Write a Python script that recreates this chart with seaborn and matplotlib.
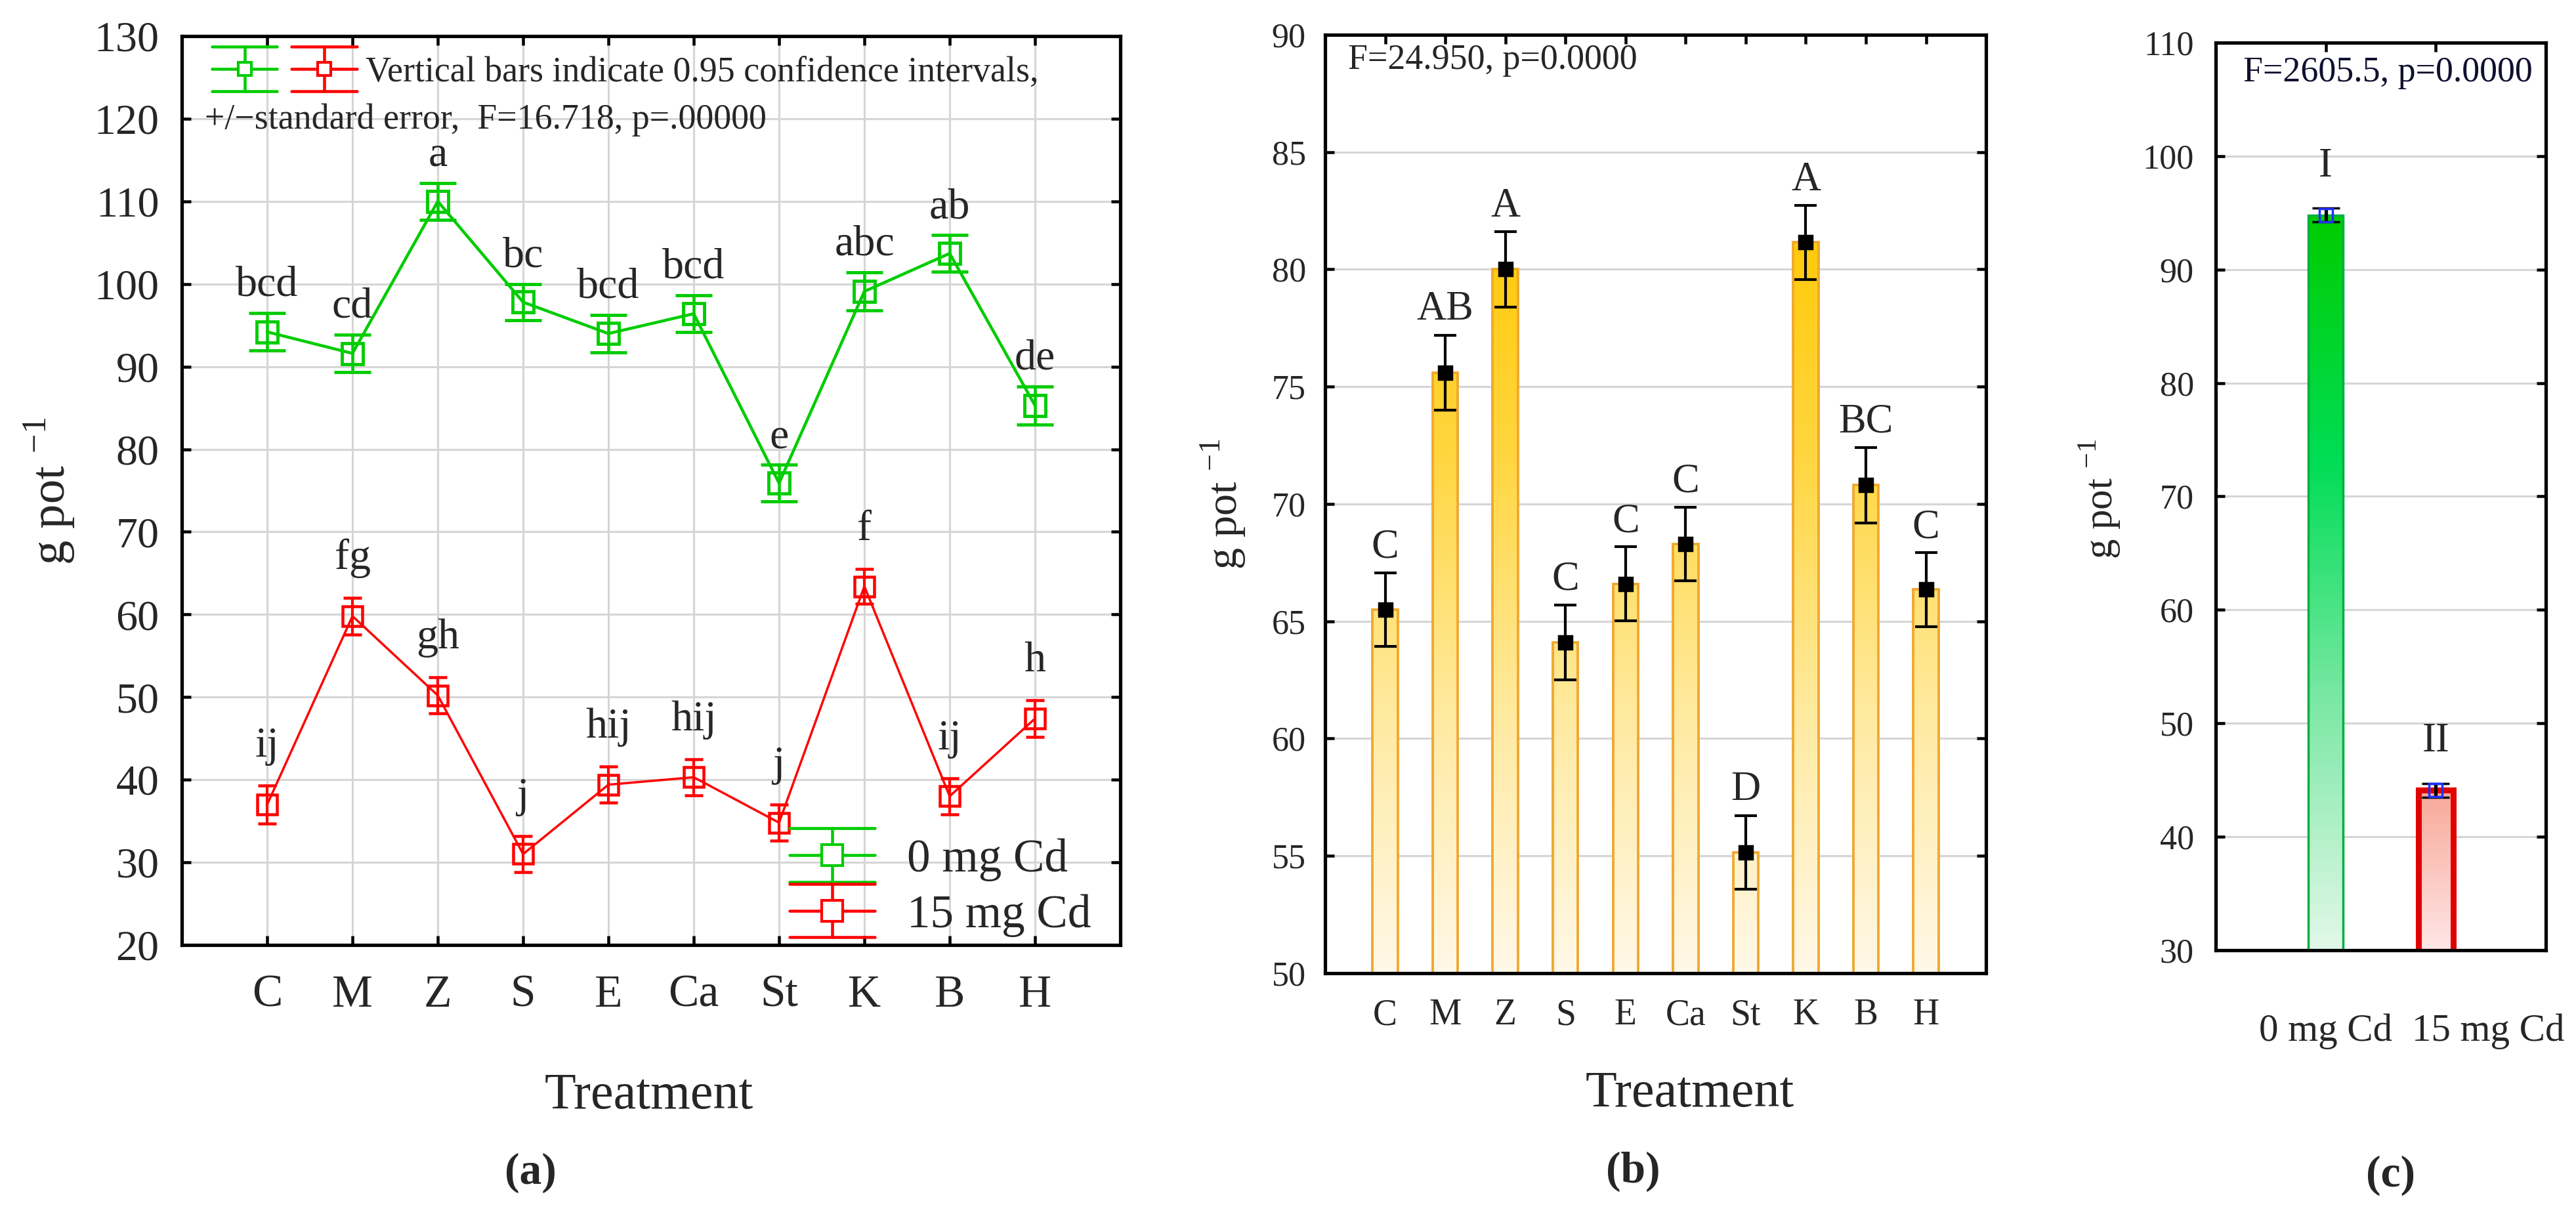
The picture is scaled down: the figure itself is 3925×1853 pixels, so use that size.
import numpy as np
import matplotlib
matplotlib.use('Agg')
import matplotlib.pyplot as plt
import seaborn as sns
from matplotlib.colors import LinearSegmentedColormap
from matplotlib.legend_handler import HandlerBase, HandlerTuple
from matplotlib.lines import Line2D
from matplotlib.transforms import ScaledTranslation

# ---- data ----
treatments = ['C', 'M', 'Z', 'S', 'E', 'Ca', 'St', 'K', 'B', 'H']

# (a) means and 0.95 CI half widths
cd0_mean = [94.2, 91.6, 110.0, 97.8, 94.0, 96.4, 75.9, 99.1, 103.7, 85.3]
cd0_ci = [2.25, 2.3, 2.25, 2.2, 2.25, 2.25, 2.2, 2.3, 2.2, 2.3]
cd0_letters = ['bcd', 'cd', 'a', 'bc', 'bcd', 'bcd', 'e', 'abc', 'ab', 'de']
cd15_mean = [37.0, 59.8, 50.2, 31.0, 39.4, 40.3, 34.8, 63.4, 38.0, 47.4]
cd15_ci = [2.3, 2.2, 2.2, 2.2, 2.2, 2.2, 2.2, 2.1, 2.2, 2.2]
cd15_letters = ['ij', 'fg', 'gh', 'j', 'hij', 'hij', 'j', 'f', 'ij', 'h']

# (b) treatment means
b_mean = [65.5, 75.6, 80.0, 64.1, 66.6, 68.3, 55.15, 81.15, 70.8, 66.35]
b_err = [1.57, 1.6, 1.6, 1.6, 1.57, 1.57, 1.57, 1.57, 1.6, 1.57]
b_letters = ['C', 'AB', 'A', 'C', 'C', 'C', 'D', 'A', 'BC', 'C']

# (c) Cd level means
cd_levels = ['0 mg Cd', '15 mg Cd']
c_mean = [94.8, 44.1]
c_err = [0.6, 0.6]
c_letters = ['I', 'II']

SERIF = 'Liberation Serif'
GREEN = '#00cc00'
RED = '#ff0000'
GRID = '#d6d6d6'

sns.set_theme(style='white')
plt.rcParams['font.family'] = [SERIF, 'DejaVu Serif']
plt.rcParams['mathtext.fontset'] = 'custom'
plt.rcParams['mathtext.rm'] = SERIF


class ErrKeyHandler(HandlerBase):
    # legend key: three horizontal lines, a vertical bar and an open square
    def __init__(self, span=0.85, ms=7):
        super().__init__()
        self.span = span
        self.ms = ms

    def create_artists(self, legend, orig_handle, xdescent, ydescent,
                       width, height, fontsize, trans):
        c = orig_handle.get_color()
        lw = 1.3
        x0 = -xdescent
        x1 = x0 + width
        xm = x0 + width / 2
        ym = -ydescent + height / 2
        dy = height * self.span
        arts = [Line2D([x0, x1], [yy, yy], color=c, lw=lw)
                for yy in (ym - dy, ym, ym + dy)]
        arts.append(Line2D([xm, xm], [ym - dy, ym + dy], color=c, lw=lw))
        arts.append(Line2D([xm], [ym], marker='s', ms=self.ms, mfc='white',
                           mec=c, mew=1.2, ls='none'))
        for a in arts:
            a.set_transform(trans)
        return arts


def style_axes(ax):
    ax.set_axisbelow(True)
    ax.grid(True, color=GRID, lw=0.9)
    for sp in ax.spines.values():
        sp.set_visible(True)
        sp.set_color('black')
        sp.set_linewidth(1.5)
    ax.tick_params(direction='in', top=True, right=True, bottom=True, left=True,
                   length=4, width=1.3, color='black')


fig = plt.figure(figsize=(15.7, 7.412), dpi=250)

# ---------------- (a) ----------------
ax = fig.add_axes([0.0706, 0.2229, 0.3643, 0.7474])
style_axes(ax)
x = np.arange(len(treatments))
e0 = ax.errorbar(x, cd0_mean, yerr=cd0_ci, color=GREEN, lw=1.3, marker='s', ms=9.5,
                 mfc='none', mew=1.4, capsize=8, capthick=1.4, elinewidth=1.3, zorder=3)
e15 = ax.errorbar(x, cd15_mean, yerr=cd15_ci, color=RED, lw=1.0, marker='s', ms=8.5,
                  mfc='none', mew=1.3, capsize=4, capthick=1.2, elinewidth=1.2, zorder=3)
for i, (m, e, t) in enumerate(zip(cd0_mean, cd0_ci, cd0_letters)):
    ax.text(i, m + e + 2.1, t, ha='center', va='baseline', fontsize=19)
for i, (m, e, t) in enumerate(zip(cd15_mean, cd15_ci, cd15_letters)):
    ax.text(i, m + e + 3.5, t, ha='center', va='baseline', fontsize=19)

ax.set_xlim(-1, 10)
ax.set_ylim(20, 130)
ax.set_yticks(range(20, 131, 10))
ax.set_xticks(x, treatments)
ax.tick_params(axis='x', labelsize=20, pad=13)
ax.tick_params(axis='y', labelsize=19, pad=10)
ax.set_xlabel('Treatment', fontsize=22.5, va='center')
ax.xaxis.set_label_coords(0.498, -0.166)
ax.set_ylabel(r'g pot $^{\mathregular{-1}}$', fontsize=21.5, va='center', ha='center')
ax.yaxis.set_label_coords(-0.1406, 0.499)

handler_map = {Line2D: ErrKeyHandler(span=0.9, ms=6), tuple: HandlerTuple(ndivide=None, pad=0.4)}
leg1 = ax.legend(handles=[(e0.lines[0], e15.lines[0])],
                 labels=['Vertical bars indicate 0.95 confidence intervals,'],
                 handler_map=handler_map, loc='upper left', bbox_to_anchor=(0.032, 0.978),
                 frameon=False, prop={'family': SERIF, 'size': 15.5}, handlelength=4.1,
                 handletextpad=0.25, borderpad=0, borderaxespad=0)
ax.add_artist(leg1)
ax.text(0.0245, 0.908, '+/\u2212standard error,  F=16.718, p=.00000', transform=ax.transAxes,
        ha='left', va='center', fontsize=15.5)
ax.legend(handles=[e0.lines[0], e15.lines[0]], labels=['0 mg Cd', '15 mg Cd'],
          handler_map={Line2D: ErrKeyHandler(span=0.82, ms=9)}, loc='lower right',
          bbox_to_anchor=(0.969, 0.009), frameon=False, prop={'family': SERIF, 'size': 20.5},
          handlelength=1.83, handletextpad=0.69, labelspacing=0.27, borderpad=0, borderaxespad=0)

# ---------------- (b) ----------------
axb = fig.add_axes([0.5144, 0.1997, 0.2566, 0.7717])
style_axes(axb)
sns.barplot(x=treatments, y=b_mean, ax=axb, width=0.42, color='#ffd84d', edgecolor='#f0a830',
            linewidth=1.1, errorbar=None, zorder=2)
gold = LinearSegmentedColormap.from_list('gold', ['#fff8e8', '#ffeaa0', '#ffd640', '#ffc800'])
grad = np.linspace(0, 1, 256).reshape(-1, 1)
for bar in axb.patches:
    x0 = bar.get_x()
    im = axb.imshow(grad, cmap=gold, origin='lower', aspect='auto',
                    extent=[x0, x0 + bar.get_width(), 50, 83], zorder=1.5)
    im.set_clip_path(bar)
    bar.set_facecolor('none')
axb.errorbar(x, b_mean, yerr=b_err, fmt='s', color='black', ms=6, capsize=5,
             elinewidth=1.2, capthick=1.2, zorder=4)
for i, (m, e, t) in enumerate(zip(b_mean, b_err, b_letters)):
    axb.text(i, m + e + 0.65, t, ha='center', va='baseline', fontsize=18)
axb.text(0.035, 0.973, 'F=24.950, p=0.0000', transform=axb.transAxes, ha='left',
         va='center', fontsize=15.5)
axb.set_xlim(-1, 10)
axb.set_ylim(50, 90)
axb.set_yticks(range(50, 91, 5))
axb.set_xticks(x, treatments)
axb.tick_params(axis='x', labelsize=16, pad=11)
axb.tick_params(axis='y', labelsize=15, pad=8.4)
axb.set_xlabel('Treatment', fontsize=22.5, va='center')
axb.xaxis.set_label_coords(0.552, -0.1287)
axb.set_ylabel(r'g pot $^{\mathregular{-1}}$', fontsize=19, va='center', ha='center')
axb.yaxis.set_label_coords(-0.153, 0.5)

# ---------------- (c) ----------------
axc = fig.add_axes([0.8601, 0.2186, 0.1282, 0.7463])
style_axes(axc)
sns.barplot(x=cd_levels, y=c_mean, ax=axc, width=0.32, color='#66dd88', errorbar=None, zorder=2)
cmaps = [LinearSegmentedColormap.from_list('g', ['#e2f8e8', '#7de8a6', '#00dd55', '#00cc00']),
         LinearSegmentedColormap.from_list('r', ['#ffe6e6', '#f8a898'])]
edges = [('#00b040', 1.0), ('#e00000', 2.6)]
for bar, cm, (ec, lw) in zip(axc.patches, cmaps, edges):
    x0 = bar.get_x()
    im = axc.imshow(grad, cmap=cm, origin='lower', aspect='auto',
                    extent=[x0, x0 + bar.get_width(), 30, bar.get_height()], zorder=1.5)
    im.set_clip_path(bar)
    bar.set_facecolor('none')
    bar.set_edgecolor(ec)
    bar.set_linewidth(lw)
xc = np.arange(len(cd_levels))
axc.errorbar(xc, c_mean, yerr=c_err, fmt='s', ms=6, mfc='none', mec='#2030ff', mew=1.0,
             ecolor='black', capsize=6, elinewidth=1.5, capthick=2.2, zorder=4)
for i, (m, e, t) in enumerate(zip(c_mean, c_err, c_letters)):
    axc.text(i, m + e + 2.0, t, ha='center', va='bottom', fontsize=18)
axc.text(0.083, 0.967, 'F=2605.5, p=0.0000', transform=axc.transAxes, ha='left',
         va='center', fontsize=15.5, color='#101030')
axc.set_xlim(-1, 2)
axc.set_ylim(30, 110)
axc.set_yticks(range(30, 111, 10))
axc.set_xticks(xc, cd_levels)
axc.tick_params(axis='x', labelsize=17, pad=27.7)
axc.tick_params(axis='y', labelsize=15, pad=9.5)
# the second category label sits to the right of its tick in the original
lab15 = axc.get_xticklabels()[1]
lab15.set_transform(lab15.get_transform() + ScaledTranslation(0.32, 0, fig.dpi_scale_trans))
axc.set_xlabel('')
axc.set_ylabel(r'g pot $^{\mathregular{-1}}$', fontsize=17.5, va='center', ha='center')
axc.yaxis.set_label_coords(-0.35, 0.497)

# panel letters
for xp, yp, lab in [(0.2059, 0.0356, '(a)'), (0.634, 0.0367, '(b)'), (0.928, 0.0335, '(c)')]:
    fig.text(xp, yp, lab, ha='center', va='center', fontsize=19.5, fontweight='bold')

fig.savefig('out.png', dpi=250)
